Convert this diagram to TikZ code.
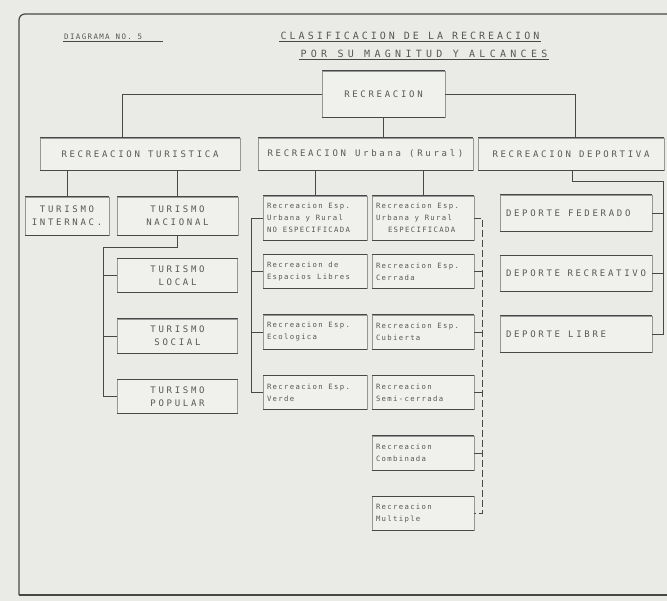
\documentclass[tikz,border=0pt]{standalone}
\usepackage{fontspec}
\usepackage{xcolor}
\usetikzlibrary{positioning}
\newfontfamily\capsfont[LetterSpace=30]{DejaVu Sans Mono}
\newfontfamily\lowfont[LetterSpace=18]{DejaVu Sans Mono}
\newfontfamily\titlewide[LetterSpace=43]{DejaVu Sans Mono}
\definecolor{ScanPaper}{RGB}{234, 235, 230}
\definecolor{ScanBox}{RGB}{240, 241, 237}
\definecolor{ScanLine}{RGB}{72, 72, 72}
\definecolor{ScanSide}{RGB}{150, 150, 150}
\definecolor{ScanText}{RGB}{88, 88, 88}
\tikzset{
    % caps boxes (RECREACION, TURISMO, DEPORTE)
    capsbox/.style={
        draw=ScanSide,
        fill=ScanBox,
        rectangle,
        inner sep=2pt,
        align=center,
        text=ScanText,
        font=\capsfont\fontsize{9}{13}\selectfont,
        line width=0.5pt
    },
    % small lower case boxes (Recreacion ...)
    lowbox/.style={
        draw=ScanSide,
        fill=ScanBox,
        rectangle,
        inner sep=4pt,
        align=flush left,
        text=ScanText,
        font=\lowfont\fontsize{7.3}{12}\selectfont,
        line width=0.5pt
    },
    % thick top / bottom rules of every box
    boxedge/.style={
        draw=ScanLine,
        line width=1.3pt
    },
    % connector lines
    link/.style={
        draw=ScanLine,
        line width=0.9pt
    },
    dlink/.style={
        draw=ScanLine,
        line width=0.8pt,
        dash pattern=on 7pt off 3pt
    },
    titletext/.style={
        text=ScanText,
        inner sep=1pt,
        font=\capsfont\fontsize{10}{12}\selectfont
    }
}
\begin{document}
\begin{tikzpicture}[x=1pt, y=-1pt]

    % paper and frame
    \fill[ScanPaper] (0,0) rectangle (667,601);
    \useasboundingbox (0,0) rectangle (667,601);
    \draw[link, line width=1.2pt] (19,595) -- (667,595);
    \draw[link, line width=1.2pt, rounded corners=6pt] (19,595) -- (19,14) -- (667,14);

    % ==========================================
    % TITLE
    % ==========================================
    \node[titletext, anchor=west, text width=98pt, align=flush left, font=\lowfont\fontsize{7.5}{9}\selectfont] (diag) at (63,37) {DIAGRAMA NO. 5};
    \draw[link, line width=0.6pt] (diag.south west) -- (diag.south east);
    \node[titletext] (tit1) at (410,36) {CLASIFICACION DE LA RECREACION};
    \draw[link, line width=0.7pt] (tit1.south west) -- (tit1.south east);
    \node[titletext, font=\titlewide\fontsize{10}{12}\selectfont] (tit2) at (424,54) {POR SU MAGNITUD Y ALCANCES};
    \draw[link, line width=0.7pt] (tit2.south west) -- (tit2.south east);

    % ==========================================
    % TOP TWO LEVELS
    % ==========================================
    \node[capsbox, minimum width=123pt, minimum height=46pt] (rec) at (383.5,94) {RECREACION};

    \node[capsbox, minimum width=200pt, minimum height=32pt] (rtur) at (140,154) {RECREACION TURISTICA};
    \node[capsbox, minimum width=215pt, minimum height=32pt] (rurb) at (365.5,154) {RECREACION\quad Urbana (Rural)};
    \node[capsbox, minimum width=186pt, minimum height=32pt] (rdep) at (571,154) {RECREACION DEPORTIVA};

    \draw[link] (rec.west) -| (rtur.north -| 122,0);
    \draw[link] (rec.east) -| (rdep.north -| 575,0);
    \draw[link] (rec.south) -- (rec.south |- rurb.north);

    % ==========================================
    % TURISMO
    % ==========================================
    \node[capsbox, minimum width=84pt, minimum height=38pt] (tint) at (67,216) {TURISMO\\INTERNAC.};
    \node[capsbox, minimum width=121pt, minimum height=38pt] (tnac) at (177.5,216) {TURISMO\\NACIONAL};
    \node[capsbox, minimum width=120pt, minimum height=34pt, below=23pt of tnac] (tloc) {TURISMO\\LOCAL};
    \node[capsbox, minimum width=120pt, minimum height=34pt, below=26pt of tloc] (tsoc) {TURISMO\\SOCIAL};
    \node[capsbox, minimum width=120pt, minimum height=34pt, below=26pt of tsoc] (tpop) {TURISMO\\POPULAR};

    \draw[link] (tint.north) -- (tint.north |- rtur.south);
    \draw[link] (tnac.north) -- (tnac.north |- rtur.south);
    \draw[link] (tnac.south) |- (103,247) coordinate (tb) |- (tpop.west);
    \foreach \t in {tloc, tsoc} {
        \draw[link] (tb |- \t.west) -- (\t.west);
    }

    % ==========================================
    % RECREACION URBANA (RURAL)
    % ==========================================
    % no especificada
    \node[lowbox, minimum width=104pt, text width=96pt, minimum height=44pt] (ua1) at (315,218) {Recreacion Esp.\\Urbana y Rural\\NO ESPECIFICADA};
    \node[lowbox, minimum width=104pt, text width=96pt, minimum height=34pt, below=14pt of ua1] (ua2) {Recreacion de\\Espacios Libres};
    \node[lowbox, minimum width=104pt, text width=96pt, minimum height=34pt, below=26pt of ua2] (ua3) {Recreacion Esp.\\Ecologica};
    \node[lowbox, minimum width=104pt, text width=96pt, minimum height=34pt, below=26pt of ua3] (ua4) {Recreacion Esp.\\Verde};

    % especificada
    \node[lowbox, minimum width=102pt, text width=94pt, minimum height=44pt] (ub1) at (423,218) {Recreacion Esp.\\Urbana y Rural\\\hspace*{12pt}ESPECIFICADA};
    \node[lowbox, minimum width=102pt, text width=94pt, minimum height=34pt, below=14pt of ub1] (ub2) {Recreacion Esp.\\Cerrada};
    \node[lowbox, minimum width=102pt, text width=94pt, minimum height=34pt, below=26pt of ub2] (ub3) {Recreacion Esp.\\Cubierta};
    \node[lowbox, minimum width=102pt, text width=94pt, minimum height=34pt, below=26pt of ub3] (ub4) {Recreacion\\Semi-cerrada};
    \node[lowbox, minimum width=102pt, text width=94pt, minimum height=34pt, below=26pt of ub4] (ub5) {Recreacion\\Combinada};
    \node[lowbox, minimum width=102pt, text width=94pt, minimum height=34pt, below=26pt of ub5] (ub6) {Recreacion\\Multiple};

    \draw[link] (ua1.north) -- (ua1.north |- rurb.south);
    \draw[link] (ub1.north) -- (ub1.north |- rurb.south);

    % left bracket (solid) and right bracket (dashed)
    \draw[link] (ua1.west) -- ++(-11,0) coordinate (uab) |- (ua4.west);
    \foreach \u in {ua2, ua3} {
        \draw[link] (uab |- \u.west) -- (\u.west);
    }
    \draw[dlink] (ub1.east) -- ++(8,0) coordinate (ubb) |- (ub6.east);
    \foreach \u in {ub2, ub3, ub4, ub5} {
        \draw[link] (ubb |- \u.east) -- (\u.east);
    }

    % ==========================================
    % DEPORTE
    % ==========================================
    \node[capsbox, minimum width=152pt, minimum height=36pt, text width=140pt, align=flush left] (dfed) at (576,213) {DEPORTE FEDERADO};
    \node[capsbox, minimum width=152pt, minimum height=36pt, text width=140pt, align=flush left, below=24pt of dfed] (drec) {DEPORTE RECREATIVO};
    \node[capsbox, minimum width=152pt, minimum height=36pt, text width=140pt, align=flush left, below=24pt of drec] (dlib) {DEPORTE LIBRE};

    \draw[link] (rdep.south -| 572,0) |- (663,181) coordinate (db) |- (dlib.east);
    \foreach \d in {dfed, drec} {
        \draw[link] (db |- \d.east) -- (\d.east);
    }

    % thick top and bottom rules of the boxes
    \foreach \b in {rec, rtur, rurb, rdep, tint, tnac, tloc, tsoc, tpop,
                    ua1, ua2, ua3, ua4, ub1, ub2, ub3, ub4, ub5, ub6,
                    dfed, drec, dlib} {
        \draw[boxedge] (\b.north west) -- (\b.north east);
        \draw[boxedge] (\b.south west) -- (\b.south east);
    }

\end{tikzpicture}
\end{document}
